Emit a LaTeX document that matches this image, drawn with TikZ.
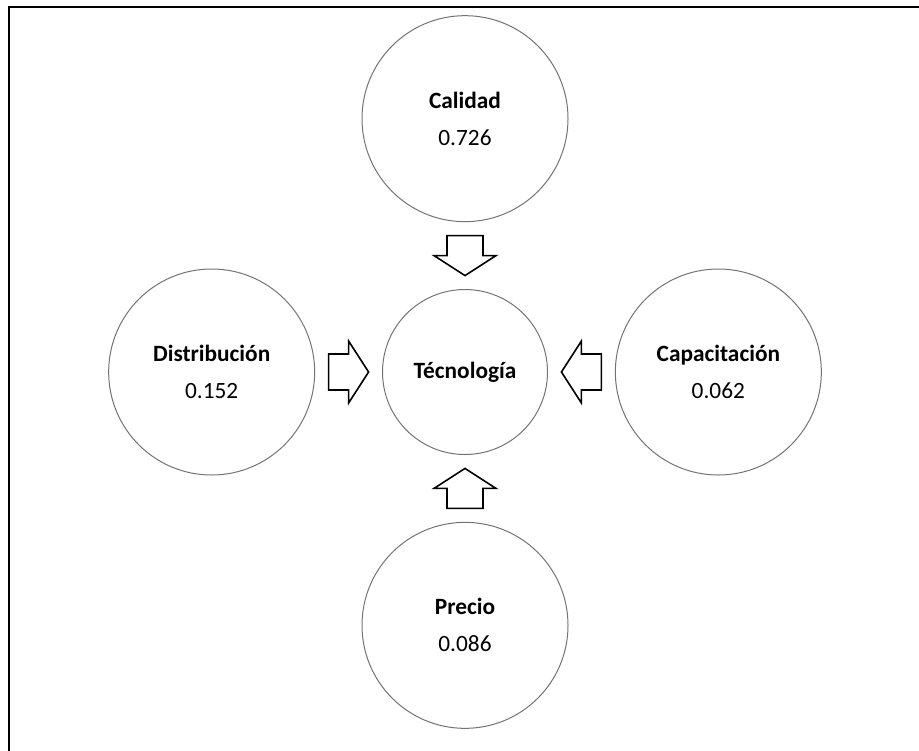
\documentclass[tikz,border=0pt]{standalone}
\usepackage{fontspec}
\setmainfont{Carlito}
\usepackage{tikz}
\usetikzlibrary{positioning,calc}

\tikzset{
  factor/.style={draw=black!55,line width=0.75pt,circle,minimum size=154.5pt,inner sep=0pt,
    align=center,font=\fontsize{17.5}{21}\selectfont},
  core/.style={factor,minimum size=123.75pt},
  arrowline/.style={draw=black,line width=1.2pt,fill=white,line join=miter},
  pics/blockarrow/.style={code={
    \draw[arrowline] (-20,-18) -- (0,-18) -- (0,-31) -- (20,0) -- (0,31) -- (0,18) -- (-20,18) -- cycle;
  }}
}

\begin{document}
\begin{tikzpicture}[x=0.75pt,y=0.75pt,node distance=190pt]
\useasboundingbox (0,0) rectangle (919,-750);
% frame
\draw[line width=1.5pt] (9,-760) -- (9,-7) -- (930,-7);

\node[core] (tec) at (465,-372) {\textbf{Técnología}};
\node[factor,above of=tec] (cal) {\textbf{Calidad}\\[6.75pt]0.726};
\node[factor,left of=tec] (dist) {\textbf{Distribución}\\[6.75pt]0.152};
\node[factor,right of=tec] (cap) {\textbf{Capacitación}\\[6.75pt]0.062};
\node[factor,below of=tec] (pre) {\textbf{Precio}\\[6.75pt]0.086};

\path ($(cal.south)!0.5!(tec.north)$) pic[rotate=-90] {blockarrow};
\path ($(dist.east)!0.5!(tec.west)$) pic {blockarrow};
\path ($(cap.west)!0.5!(tec.east)$) pic[rotate=180] {blockarrow};
\path ($(pre.north)!0.5!(tec.south)$) pic[rotate=90] {blockarrow};
\end{tikzpicture}
\end{document}
